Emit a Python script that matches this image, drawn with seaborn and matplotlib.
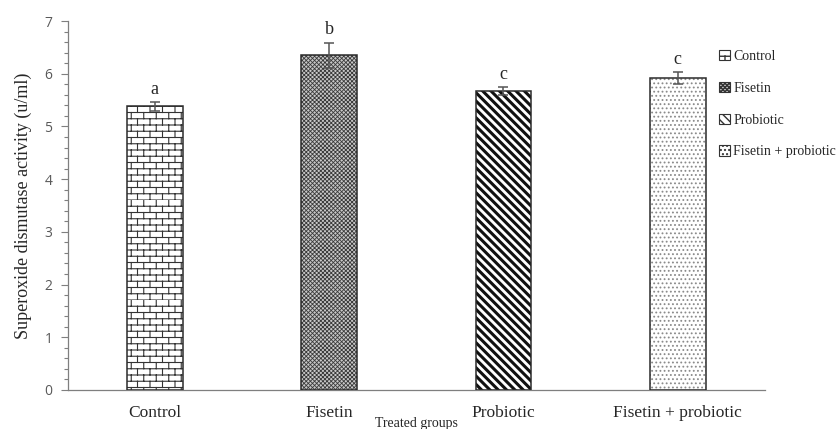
import warnings
import numpy as np
import pandas as pd
import matplotlib
matplotlib.use('Agg')
import matplotlib.pyplot as plt
import seaborn as sns
from matplotlib import hatch as mhatch
from matplotlib.path import Path
from matplotlib.patches import Rectangle, Patch
from matplotlib.ticker import MultipleLocator

# Data
groups = ['Control', 'Fisetin', 'Probiotic', 'Fisetin + probiotic']
sod_mean = [5.38, 6.35, 5.67, 5.92]
sod_err = [0.08, 0.24, 0.07, 0.11]
letters = ['a', 'b', 'c', 'c']


# brick hatch, matplotlib has none built in
class BrickHatch(mhatch.HatchPatternBase):
    def __init__(self, hatch, density):
        self.rows = 16 if 'B' in hatch else 0
        self.cols = 8
        self.num_vertices = (self.rows + self.rows * self.cols) * 2

    def set_vertices_and_codes(self, vertices, codes):
        segs = []
        for i in range(self.rows):
            y0 = i / self.rows
            y1 = (i + 1) / self.rows
            segs.append(((0, y0), (1, y0)))
            off = 0 if i % 2 == 0 else 0.5 / self.cols
            for k in range(self.cols):
                x = off + k / self.cols
                segs.append(((x, y0), (x, y1)))
        for j, (a, b) in enumerate(segs):
            vertices[2 * j] = a
            vertices[2 * j + 1] = b
            codes[2 * j] = Path.MOVETO
            codes[2 * j + 1] = Path.LINETO


mhatch._hatch_types.append(BrickHatch)
warnings.filterwarnings('ignore')

df = pd.DataFrame({'group': groups, 'sod': sod_mean})

sns.set_style('white')
serif = ['Liberation Serif', 'DejaVu Serif']
plt.rcParams['font.family'] = serif

fig = plt.figure(figsize=(8.36, 4.29), dpi=100)
ax = fig.add_axes([0.081, 0.091, 0.834, 0.86])

sns.barplot(data=df, x='group', y='sod', hue='group', palette=['white'] * 4,
            width=0.32, legend=False, ax=ax)

# bar styles: face, hatch, hatch colour, hatch width
styles = [
    ('white', 'B', '#333333', 0.8),
    ('#c8c8c8', 'xxxxxxxx', '#3a3a3a', 0.6),
    ('white', '\\\\\\\\', '#111111', 2.2),
    ('white', '....', '#8a8a8a', 0.8),
]

for p, (fc, h, hc, hlw) in zip(ax.patches, styles):
    p.set_facecolor(fc)
    p.set_hatch(h)
    p.set_edgecolor(hc)
    p.set_linewidth(0)
    if hasattr(p, 'set_hatch_linewidth'):
        p.set_hatch_linewidth(hlw)
    ax.add_patch(Rectangle(p.get_xy(), p.get_width(), p.get_height(),
                           fill=False, ec='#2b2b2b', lw=1.1, zorder=3))

xs = np.arange(len(groups))
ax.errorbar(xs, sod_mean, yerr=sod_err, fmt='none', ecolor='#555555',
            elinewidth=1.1, capsize=3.5, capthick=1.1, zorder=4)

for x, m, e, t in zip(xs, sod_mean, sod_err, letters):
    ax.text(x, m + e + 0.08, t, ha='center', va='bottom', fontsize=13,
            family=serif)

ax.set_xlim(-0.5, 3.5)
ax.set_ylim(0, 7)
ax.yaxis.set_major_locator(MultipleLocator(1))
ax.yaxis.set_minor_locator(MultipleLocator(0.2))
ax.tick_params(axis='y', which='major', direction='out', length=5, width=0.8,
               color='#7f7f7f', labelsize=10, labelcolor='#595959', left=True, pad=6)
ax.tick_params(axis='y', which='minor', direction='out', length=3, width=0.8,
               color='#7f7f7f', left=True)
ax.tick_params(axis='x', length=0, labelsize=12.5, pad=10.5)
for lbl in ax.get_yticklabels():
    lbl.set_family(['Open Sans', 'DejaVu Sans'])

for s in ['top', 'right']:
    ax.spines[s].set_visible(False)
ax.spines['left'].set_color('#7f7f7f')
ax.spines['bottom'].set_color('#7f7f7f')
ax.spines['left'].set_linewidth(0.9)
ax.spines['bottom'].set_linewidth(0.9)

ax.set_ylabel('Superoxide dismutase activity (u/ml)', fontsize=13, labelpad=9)
ax.set_xlabel('Treated groups', fontsize=10, labelpad=-2.5)

handles = [Patch(facecolor=fc, edgecolor='#333333', hatch=h, lw=0.8)
           for fc, h, hc, hlw in styles]
fig.legend(handles, groups, loc='upper left', bbox_to_anchor=(0.854, 0.896),
           frameon=False, fontsize=10, handlelength=0.75, handleheight=0.75,
           handletextpad=0.25, labelspacing=1.35, borderaxespad=0)

fig.savefig('out.png', dpi=100)
